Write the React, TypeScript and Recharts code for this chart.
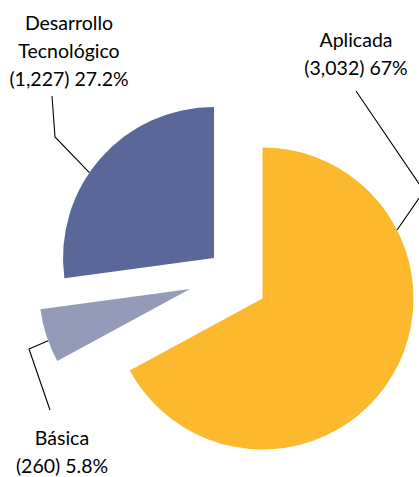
import React from 'react';
import { PieChart, Pie, Cell } from 'recharts';

// ---- data ----
const categories = ['Aplicada', 'Básica', 'Desarrollo Tecnológico'];
const values = [3032, 260, 1227];
const percentLabels = ['67%', '5.8%', '27.2%'];
const nameLines = [['Aplicada'], ['Básica'], ['Desarrollo', 'Tecnológico']];
const colors = ['#FDB92E', '#949BB8', '#5A6799'];

const data = categories.map((name, i) => ({ name, value: values[i] }));

// ---- layout (exploded slice centres, label placement) ----
const RADIUS = 151;
const centres = [
  { cx: 262.5, cy: 298.5 },
  { cx: 190, cy: 289 },
  { cx: 214, cy: 258 },
];
const labelLayout = [
  { x: 356, y: 47, attach: 27, path: [[356, 91], [424, 191]] },
  { x: 62, y: 445, attach: 200, path: [[50, 410], [29, 349]] },
  { x: 69, y: 30, attach: 145.6, path: [[52, 96], [55, 137]] },
];
const LINE_H = 28;
const FONT = 'Lato, "Open Sans", sans-serif';
const FONT_SIZE = 19.5;

const RAD = Math.PI / 180;

const makeLabel = (slice: number) => (props: any) => {
  if (props.index !== slice) return null;
  const { cx, cy, outerRadius, value } = props;
  const lay = labelLayout[slice];
  const ax = cx + outerRadius * Math.cos(-lay.attach * RAD);
  const ay = cy + outerRadius * Math.sin(-lay.attach * RAD);
  const pts = [...lay.path, [ax, ay]].map((p) => p.join(',')).join(' ');
  const lines = [...nameLines[slice], `(${value.toLocaleString('en-US')}) ${percentLabels[slice]}`];
  return (
    <g>
      <polyline points={pts} fill="none" stroke="#000" strokeWidth={1.1} />
      {lines.map((t, i) => (
        <text
          key={i}
          x={lay.x}
          y={lay.y + i * LINE_H}
          textAnchor="middle"
          fontFamily={FONT}
          fontSize={FONT_SIZE}
          fill="#000"
        >
          {t}
        </text>
      ))}
    </g>
  );
};

export default function App() {
  return (
    <div style={{ position: 'absolute', left: 0, top: 0, width: 419, height: 477, background: '#fff' }}>
      <PieChart width={419} height={477} margin={{ top: 0, right: 0, bottom: 0, left: 0 }}>
        {centres.map((c, slice) => (
          <Pie
            key={slice}
            data={data}
            dataKey="value"
            nameKey="name"
            cx={c.cx}
            cy={c.cy}
            outerRadius={RADIUS}
            innerRadius={0}
            startAngle={90}
            endAngle={-270}
            isAnimationActive={false}
            labelLine={false}
            label={makeLabel(slice)}
            stroke="none"
          >
            {data.map((d, i) => (
              <Cell key={d.name} fill={i === slice ? colors[i] : 'none'} stroke="none" />
            ))}
          </Pie>
        ))}
      </PieChart>
    </div>
  );
}
